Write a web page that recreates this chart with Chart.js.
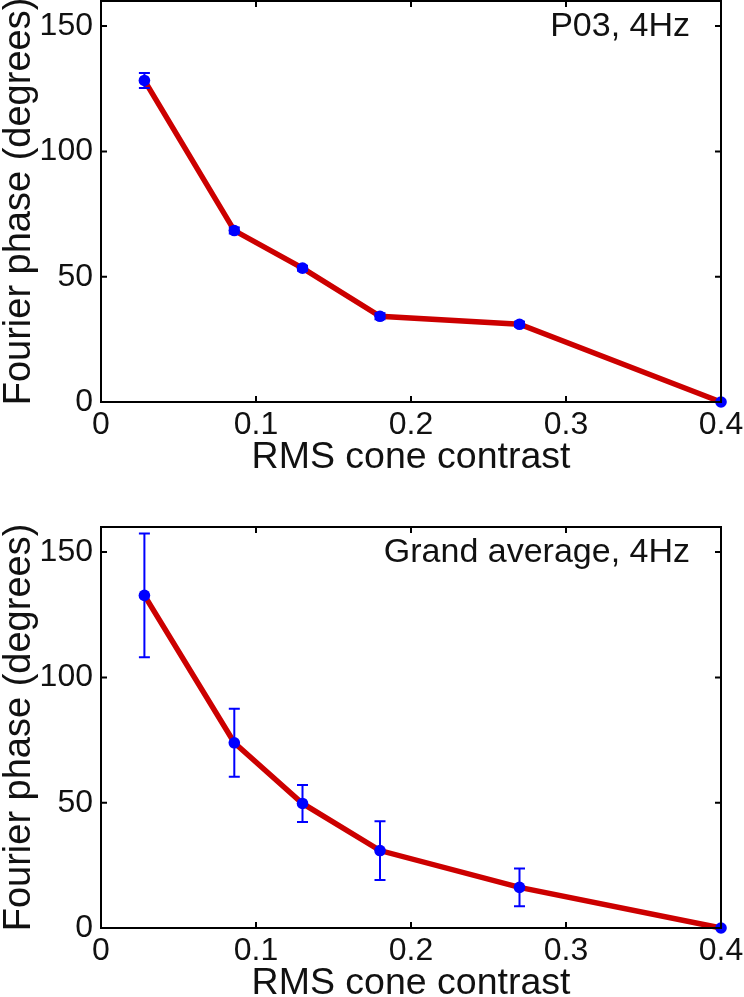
<!DOCTYPE html>
<html><head><meta charset="utf-8">
<script src="https://cdn.jsdelivr.net/npm/chart.js@4/dist/chart.umd.min.js"></script>
<style>
html,body{margin:0;padding:0;background:#fff;overflow:hidden;}
#wrap{position:relative;width:744px;height:997px;overflow:hidden;background:#fff;}
canvas{position:absolute;left:0;}
</style></head><body>
<div id="wrap">
<canvas id="c1" width="744" height="526" style="top:0px"></canvas>
<canvas id="c2" width="744" height="526" style="top:526px"></canvas>
</div>
<script>
// ---- data ----
const contrast   = [0.028, 0.086, 0.13, 0.18, 0.27, 0.4];
const p03Phase   = [128.3, 68.4, 53.4, 34.2, 31.0, 0];
const p03Err     = [3.0, 1.2, 1.0, 1.2, 1.0, 0];
const grandPhase = [132.7, 73.9, 49.7, 30.9, 16.2, 0];
const grandErr   = [24.7, 13.6, 7.4, 11.7, 7.5, 0];
const xTicks = [0, 0.1, 0.2, 0.3, 0.4];
const yTicks = [0, 50, 100, 150];
const xTitle = 'RMS cone contrast';
const yTitle = 'Fourier phase (degrees)';
const panelLabels = ['P03, 4Hz', 'Grand average, 4Hz'];

const FONT = '"Liberation Sans", Arial, Helvetica, sans-serif';
const RED = '#cc0000', BLUE = '#0000ff';

const boxPlugin = {
  id: 'boxTicks',
  afterDatasetsDraw(chart) {
    const ctx = chart.ctx;
    const xs = chart.scales.x, ys = chart.scales.y;
    const errs = chart.options.plugins.boxTicks.errors;
    const phase = chart.options.plugins.boxTicks.phase;
    ctx.save();
    ctx.strokeStyle = BLUE; ctx.lineWidth = 2;
    contrast.forEach((c, i) => {
      if (!errs[i]) return;
      const px = xs.getPixelForValue(c);
      const top = ys.getPixelForValue(phase[i] + errs[i]);
      const bot = ys.getPixelForValue(phase[i] - errs[i]);
      ctx.beginPath();
      ctx.moveTo(px, top); ctx.lineTo(px, bot);
      ctx.moveTo(px - 5.5, top); ctx.lineTo(px + 5.5, top);
      ctx.moveTo(px - 5.5, bot); ctx.lineTo(px + 5.5, bot);
      ctx.stroke();
    });
    ctx.restore();
  },
  afterDraw(chart) {
    const ctx = chart.ctx, a = chart.chartArea;
    const xs = chart.scales.x, ys = chart.scales.y;
    ctx.save();
    ctx.strokeStyle = '#000'; ctx.lineWidth = 2;
    ctx.strokeRect(a.left, a.top, a.right - a.left, a.bottom - a.top);
    const tl = 6;
    ctx.beginPath();
    xTicks.forEach(v => {
      const p = xs.getPixelForValue(v);
      ctx.moveTo(p, a.bottom); ctx.lineTo(p, a.bottom - tl);
      ctx.moveTo(p, a.top); ctx.lineTo(p, a.top + tl);
    });
    yTicks.forEach(v => {
      const p = ys.getPixelForValue(v);
      ctx.moveTo(a.left, p); ctx.lineTo(a.left + tl, p);
      ctx.moveTo(a.right, p); ctx.lineTo(a.right - tl, p);
    });
    ctx.stroke();
    ctx.fillStyle = '#111';
    ctx.font = '34px ' + FONT;
    ctx.textAlign = 'right';
    ctx.textBaseline = 'middle';
    ctx.fillText(chart.options.plugins.boxTicks.label, a.right - 31, a.top + 26);
    ctx.restore();
  }
};

function makeChart(id, phase, err, label) {
  const pts = contrast.map((c, i) => ({x: c, y: phase[i]}));
  return new Chart(document.getElementById(id), {
    type: 'scatter',
    data: {
      datasets: [
        { data: pts, showLine: true, borderColor: RED, borderWidth: 5.5,
          pointRadius: 0, pointHoverRadius: 0, clip: false, order: 2, fill: false },
        { data: pts, showLine: false, pointRadius: 5.8, pointHoverRadius: 5.8,
          pointBackgroundColor: BLUE, pointBorderColor: BLUE, pointBorderWidth: 0,
          clip: false, order: 1 }
      ]
    },
    options: {
      responsive: false, animation: false, devicePixelRatio: 1,
      events: [],
      layout: { autoPadding: false, padding: { top: 1, left: 0, right: 23, bottom: 0 } },
      plugins: {
        legend: { display: false }, tooltip: { enabled: false },
        boxTicks: { errors: err, phase: phase, label: label }
      },
      scales: {
        x: {
          type: 'linear', min: 0, max: 0.4,
          grid: { display: false, drawTicks: false, tickLength: 0 }, border: { display: false },
          afterBuildTicks: s => { s.ticks = xTicks.map(v => ({value: v})); },
          afterFit: s => { s.height = 124; s.paddingLeft = 0; s.paddingRight = 0; },
          ticks: { font: { size: 32, family: FONT }, color: '#111', padding: 4,
                   maxRotation: 0, autoSkip: false,
                   callback: v => String(Math.round(v * 10) / 10) },
          title: { display: true, text: xTitle, color: '#111',
                   font: { size: 37.5, family: FONT, lineHeight: 1 },
                   padding: { top: 0, bottom: 50 } }
        },
        y: {
          type: 'linear', min: 0, max: 160,
          grid: { display: false, drawTicks: false, tickLength: 0 }, border: { display: false },
          afterBuildTicks: s => { s.ticks = yTicks.map(v => ({value: v})); },
          afterFit: s => { s.width = 101; s.paddingTop = 0; s.paddingBottom = 0; },
          ticks: { font: { size: 32, family: FONT }, color: '#111', padding: 8,
                   autoSkip: false, callback: v => String(v) },
          title: { display: true, text: yTitle, color: '#111',
                   font: { size: 38, family: FONT, lineHeight: 1 },
                   padding: { top: 0.5, bottom: 0 } }
        }
      }
    },
    plugins: [boxPlugin]
  });
}

makeChart('c1', p03Phase, p03Err, panelLabels[0]);
makeChart('c2', grandPhase, grandErr, panelLabels[1]);
</script>
</body></html>
